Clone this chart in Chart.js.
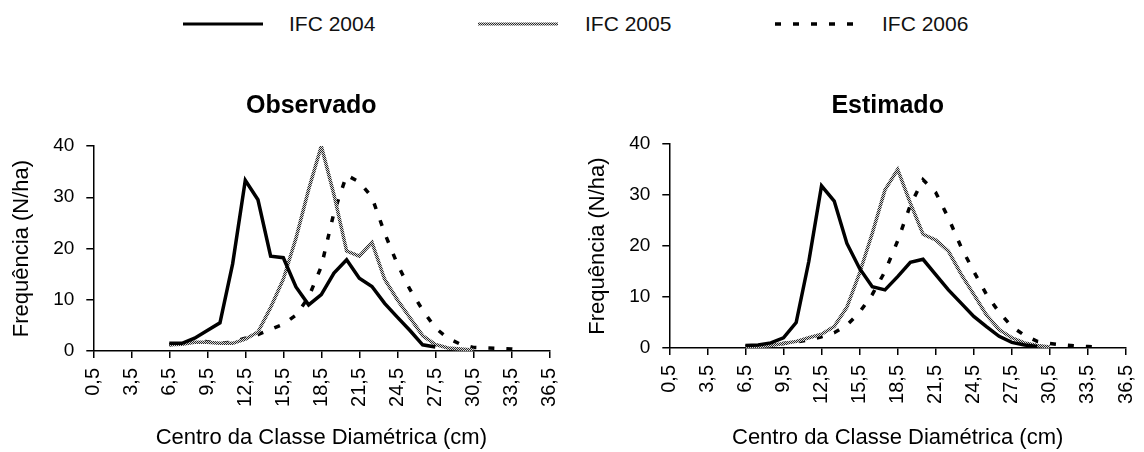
<!DOCTYPE html>
<html>
<head>
<meta charset="utf-8">
<script src="https://cdn.jsdelivr.net/npm/chart.js@4.4.1/dist/chart.umd.min.js"></script>
<style>
  body { margin: 0; background: #fff; width: 1144px; height: 452px; overflow: hidden; position: relative;
         font-family: "Liberation Sans", Arial, sans-serif; }
  .panel { position: absolute; top: 0; }
  .key { position: absolute; top: 19px; }
  .key-text { position: absolute; top: 12px; font-size: 21px; line-height: 24px; color: #111; white-space: nowrap; }
</style>
</head>
<body>
<canvas class="key" id="key2004" width="80" height="10" style="left:183px"></canvas>
<span class="key-text" style="left:289px">IFC 2004</span>
<canvas class="key" id="key2005" width="80" height="10" style="left:478px"></canvas>
<span class="key-text" style="left:585px">IFC 2005</span>
<canvas class="key" id="key2006" width="80" height="10" style="left:775px"></canvas>
<span class="key-text" style="left:882px">IFC 2006</span>

<div class="panel" style="left:0"><canvas id="obsChart" width="572" height="452"></canvas></div>
<div class="panel" style="left:576px"><canvas id="estChart" width="568" height="452"></canvas></div>

<script>
// diameter class centres (cm)
const classes = [0.5, 1.5, 2.5, 3.5, 4.5, 5.5, 6.5, 7.5, 8.5, 9.5, 10.5, 11.5, 12.5,
  13.5, 14.5, 15.5, 16.5, 17.5, 18.5, 19.5, 20.5, 21.5, 22.5, 23.5, 24.5,
  25.5, 26.5, 27.5, 28.5, 29.5, 30.5, 31.5, 32.5, 33.5, 34.5, 35.5, 36.5];
const xTicks = [0.5, 3.5, 6.5, 9.5, 12.5, 15.5, 18.5, 21.5, 24.5, 27.5, 30.5, 33.5, 36.5];

// observado (N/ha)
const obs2004 = [null, null, null, null, null, null, 1.5, 1.5, 2.5, 4, 5.5, 17, 33.3,
  29.5, 18.5, 18.2, 12.5, 9, 11, 15.2, 17.8, 14.2, 12.6, 9.3, 6.6,
  4, 1.2, 0.8, null, null, null, null, null, null, null, null, null];
const obs2005 = [null, null, null, null, null, null, 1.2, 1.3, 1.7, 1.7, 1.5, 1.5, 2.3,
  3.7, 8.5, 14, 22, 31.5, 40, 30.5, 19.5, 18.5, 21.2, 14, 10,
  6.5, 3, 1.3, 0.6, 0.4, 0.2, null, null, null, null, null, null];
const obs2006 = [null, null, null, null, null, null, 1.2, 1.5, 2, 1.8, 1.5, 1.7, 2.5,
  3.2, 4.2, 5.2, 7, 10.5, 16.5, 27, 34.3, 33, 30, 23, 17,
  12, 8, 4.5, 2.5, 1.3, 0.7, 0.6, 0.5, 0.4, 0.2, null, null];

// estimado (N/ha)
const est2004 = [null, null, null, null, null, null, 0.5, 0.6, 1, 2, 5, 17, 31.8,
  28.8, 20.5, 15.6, 12, 11.4, 14, 16.8, 17.4, 14.4, 11.4, 8.8, 6.2,
  4.2, 2.3, 1.1, 0.6, 0.3, null, null, null, null, null, null, null];
const est2005 = [null, null, null, null, null, null, 0.2, 0.3, 0.5, 0.9, 1.3, 2, 2.7,
  4.2, 8, 14.7, 22.5, 31, 35, 28.4, 22.3, 21.2, 19, 14.5, 10.5,
  6.5, 3.6, 2, 1, 0.5, 0.2, null, null, null, null, null, null];
const est2006 = [null, null, null, null, null, null, 0.3, 0.4, 0.6, 0.9, 1.2, 1.6, 2.2,
  3, 4.5, 7, 10.5, 15, 21, 28, 33, 30.5, 25.5, 19.8, 15,
  10.5, 7, 4.2, 2.5, 1.3, 0.9, 0.6, 0.4, 0.3, 0.2, null, null];

const FONT = '"Liberation Sans", Arial, sans-serif';
Chart.defaults.font.family = FONT;
Chart.defaults.color = '#000';

// grey line with a fine checker texture
function hatch(ctx) {
  const c = document.createElement('canvas');
  c.width = 2; c.height = 2;
  const g = c.getContext('2d');
  g.fillStyle = '#d8d8d8'; g.fillRect(0, 0, 2, 2);
  g.fillStyle = '#2a2a2a'; g.fillRect(0, 0, 1, 1); g.fillRect(1, 1, 1, 1);
  return ctx.createPattern(c, 'repeat');
}

const points = (vals) => classes.map((x, i) => ({ x, y: vals[i] }));

// panel heading, centred a little left of the plot
const panelTitle = {
  id: 'panelTitle',
  afterDraw(chart, args, opts) {
    const { ctx, chartArea } = chart;
    ctx.save();
    ctx.font = 'bold 25px ' + FONT;
    ctx.fillStyle = '#000';
    ctx.textAlign = 'center';
    ctx.textBaseline = 'middle';
    ctx.fillText(opts.text, (chartArea.left + chartArea.right) / 2 - 10, 106);
    ctx.restore();
  }
};

function makeChart(id, title, a, b, c, top, bottom, right) {
  const ctx = document.getElementById(id).getContext('2d');
  return new Chart(ctx, {
    type: 'line',
    data: {
      datasets: [
        { label: 'IFC 2004', data: points(a), borderColor: '#000', borderWidth: 3.5 },
        { label: 'IFC 2005', data: points(b), borderColor: hatch(ctx), borderWidth: 3.5 },
        { label: 'IFC 2006', data: points(c), borderColor: '#000', borderWidth: 3.5, borderDash: [6, 12] }
      ]
    },
    plugins: [panelTitle],
    options: {
      responsive: false,
      animation: false,
      elements: { point: { radius: 0 }, line: { tension: 0 } },
      layout: { padding: { top: top, right: right, bottom: 0, left: 0 } },
      plugins: {
        legend: { display: false },
        tooltip: { enabled: false },
        panelTitle: { text: title }
      },
      scales: {
        x: {
          type: 'linear', min: 0.5, max: 36.5,
          afterBuildTicks: (s) => { s.ticks = xTicks.map(v => ({ value: v })); },
          // fixed axis height; rotated end labels may hang past the plot edge
          afterFit: (s) => { s.height = bottom; s.paddingLeft = 0; s.paddingRight = 0; },
          grid: { drawOnChartArea: false, tickLength: 7, color: '#000', lineWidth: 1.5 },
          border: { color: '#000', width: 1.5 },
          ticks: {
            autoSkip: false, minRotation: 90, maxRotation: 90, padding: 10,
            font: { size: 20 },
            callback: (v) => v.toFixed(1).replace('.', ',')
          },
          title: { display: true, text: 'Centro da Classe Diamétrica (cm)', font: { size: 22 }, padding: { top: 0, bottom: 1 } }
        },
        y: {
          min: 0, max: 40,
          afterFit: (s) => { s.width = 93.3; },
          grid: { drawOnChartArea: false, tickLength: 7, color: '#000', lineWidth: 1.5 },
          border: { color: '#000', width: 1.5 },
          ticks: { stepSize: 10, padding: 12, font: { size: 19 } },
          title: { display: true, text: 'Frequência (N/ha)', font: { size: 22 }, padding: { top: 9, bottom: 0 } }
        }
      }
    }
  });
}

makeChart('obsChart', 'Observado', obs2004, obs2005, obs2006, 146, 101, 22.7);
makeChart('estChart', 'Estimado', est2004, est2005, est2006, 144, 104, 18);

// legend samples
function key(id, style) {
  const g = document.getElementById(id).getContext('2d');
  g.beginPath();
  g.moveTo(0, 5); g.lineTo(80, 5);
  g.strokeStyle = style.color === 'hatch' ? hatch(g) : style.color;
  g.lineWidth = style.width;
  g.setLineDash(style.dash || []);
  g.stroke();
}
key('key2004', { color: '#000', width: 3 });
key('key2005', { color: 'hatch', width: 3 });
key('key2006', { color: '#000', width: 3.5, dash: [6, 12] });
</script>
</body>
</html>
